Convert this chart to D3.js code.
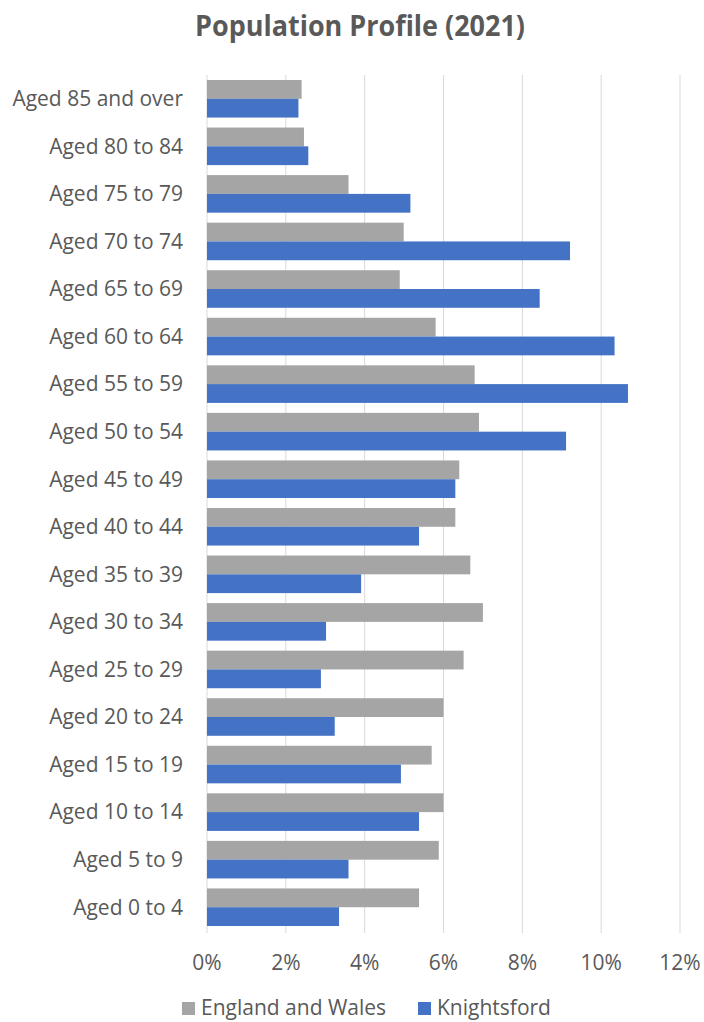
<!DOCTYPE html>
<html lang="en">
<head>
  <meta charset="UTF-8">
  <title>Population Profile (2021)</title>
  <script src="https://d3js.org/d3.v7.min.js"></script>
  <style>
    body { margin: 0; background: #fff; }
    svg { display: block; font-family: "Open Sans", sans-serif; }
    .tick-label, .cat-label, .legend-label { font-size: 21px; fill: #595959; }
    .title { font-size: 28px; font-weight: bold; fill: #595959; }
  </style>
</head>
<body>
  <svg width="704" height="1022"></svg>

  <script>
    // age groups, top to bottom as drawn
    const ageGroups = [
      "Aged 85 and over", "Aged 80 to 84", "Aged 75 to 79", "Aged 70 to 74",
      "Aged 65 to 69", "Aged 60 to 64", "Aged 55 to 59", "Aged 50 to 54",
      "Aged 45 to 49", "Aged 40 to 44", "Aged 35 to 39", "Aged 30 to 34",
      "Aged 25 to 29", "Aged 20 to 24", "Aged 15 to 19", "Aged 10 to 14",
      "Aged 5 to 9", "Aged 0 to 4"
    ];
    const seriesNames = ["England and Wales", "Knightsford"];
    // percentages, same order as ageGroups
    const englandWales = [2.40, 2.46, 3.59, 4.99, 4.89, 5.80, 6.79, 6.90, 6.40,
                          6.30, 6.68, 7.00, 6.51, 6.00, 5.70, 6.00, 5.88, 5.38];
    const knightsford = [2.32, 2.57, 5.16, 9.21, 8.44, 10.34, 10.68, 9.11, 6.30,
                         5.38, 3.91, 3.02, 2.89, 3.24, 4.92, 5.38, 3.59, 3.35];
    const xTicks = [0, 2, 4, 6, 8, 10, 12];

    const colors = { "England and Wales": "#A5A5A5", "Knightsford": "#4472C4" };

    const svg = d3.select("svg");

    const plot = { left: 207, right: 680, top: 75, bottom: 931 };

    const x = d3.scaleLinear().domain([0, 12]).range([plot.left, plot.right]);

    const y = d3.scaleBand()
      .domain(ageGroups)
      .range([plot.top, plot.bottom])
      .paddingInner(0.21)
      .paddingOuter(0.105);

    const ySub = d3.scaleBand()
      .domain(seriesNames)
      .range([0, y.bandwidth()]);

    // title
    svg.append("text")
      .attr("class", "title")
      .attr("x", 360)
      .attr("y", 36)
      .attr("text-anchor", "middle")
      .attr("textLength", 330)
      .attr("lengthAdjust", "spacingAndGlyphs")
      .text("Population  Profile (2021)");

    // gridlines
    svg.append("g")
      .selectAll("line")
      .data(xTicks)
      .join("line")
      .attr("x1", d => x(d)).attr("x2", d => x(d))
      .attr("y1", plot.top).attr("y2", plot.bottom + 2)
      .attr("stroke", "#D9D9D9")
      .attr("stroke-width", 1);

    // bars
    const rows = ageGroups.map((g, i) => ({
      group: g,
      values: [
        { series: "England and Wales", value: englandWales[i] },
        { series: "Knightsford", value: knightsford[i] }
      ]
    }));

    svg.append("g")
      .selectAll("g")
      .data(rows)
      .join("g")
      .attr("transform", d => `translate(0,${y(d.group)})`)
      .selectAll("rect")
      .data(d => d.values)
      .join("rect")
      .attr("x", x(0))
      .attr("y", d => ySub(d.series))
      .attr("width", d => x(d.value) - x(0))
      .attr("height", ySub.bandwidth())
      .attr("fill", d => colors[d.series]);

    // category labels
    svg.append("g")
      .selectAll("text")
      .data(ageGroups)
      .join("text")
      .attr("class", "cat-label")
      .attr("x", 183)
      .attr("y", d => y(d) + y.bandwidth() / 2)
      .attr("dy", "0.35em")
      .attr("text-anchor", "end")
      .text(d => d);

    // x tick labels
    svg.append("g")
      .selectAll("text")
      .data(xTicks)
      .join("text")
      .attr("class", "tick-label")
      .attr("x", d => x(d))
      .attr("y", 970)
      .attr("text-anchor", "middle")
      .text(d => d + "%");

    // legend
    const legendX = [182, 418];
    const legend = svg.append("g")
      .selectAll("g")
      .data(seriesNames)
      .join("g")
      .attr("transform", (d, i) => `translate(${legendX[i]},1002)`);

    legend.append("rect")
      .attr("width", 13)
      .attr("height", 13)
      .attr("fill", d => colors[d]);

    legend.append("text")
      .attr("class", "legend-label")
      .attr("x", 19)
      .attr("y", 13)
      .text(d => d);
  </script>
</body>
</html>
